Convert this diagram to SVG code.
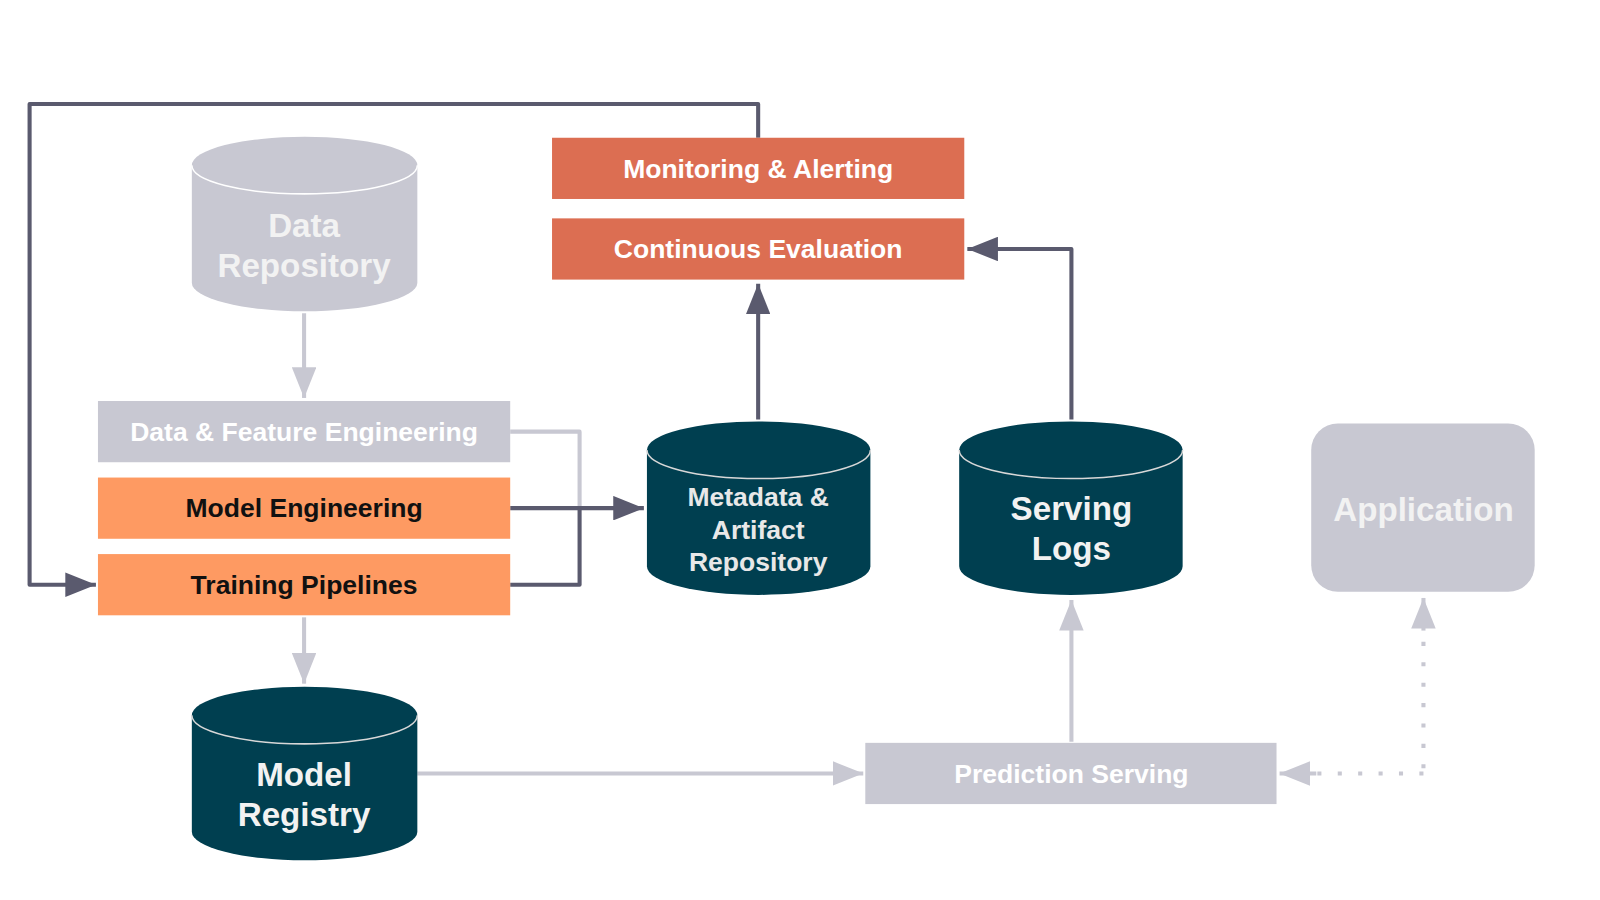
<svg xmlns="http://www.w3.org/2000/svg" width="1600" height="900" viewBox="0 0 1600 900">
<style>
text{font-family:"Liberation Sans",Arial,sans-serif;font-weight:bold;text-anchor:middle}
.lt{fill:#c8c8d2}
.dk{fill:#003f50}
.or{fill:#fe9a62}
.rd{fill:#dc6e52}
.lbl{font-size:26px}
.cyl{font-size:32.5px;fill:#f2f2f2}
.cl{stroke:#ffffff;stroke-width:1.5;fill:none}
.cd{stroke:#d8d8d8;stroke-width:1.5;fill:none}
.ln{fill:none;stroke-width:4;stroke-linejoin:round}
.ldk{stroke:#5a5a6e}
.llt{stroke:#c8c8d2}
</style>
<defs>
<marker id="ad" viewBox="0 0 30 24" refX="30" refY="12" markerWidth="30" markerHeight="24" markerUnits="userSpaceOnUse" orient="auto"><path d="M0,0 L30,12 L0,24 Z" fill="#5a5a6e"/></marker>
<marker id="al" viewBox="0 0 30 24" refX="30" refY="12" markerWidth="30" markerHeight="24" markerUnits="userSpaceOnUse" orient="auto"><path d="M0,0 L30,12 L0,24 Z" fill="#c8c8d2"/></marker>
</defs>
<rect width="1600" height="900" fill="#ffffff"/>
<g transform="scale(1.0204)">
<g id="connectors">
<path class="ln llt" d="M298,307 V390" marker-end="url(#al)"/>
<path class="ln llt" d="M500,423 H568 V498"/>
<path class="ln ldk" d="M500,498 H631" marker-end="url(#ad)"/>
<path class="ln ldk" d="M500,573 H568 V498"/>
<path class="ln ldk" d="M743,411 V278" marker-end="url(#ad)"/>
<path class="ln ldk" d="M743,135 V102 H29 V573 H94" marker-end="url(#ad)"/>
<path class="ln ldk" d="M1050,411 V244 H948" marker-end="url(#ad)"/>
<path class="ln llt" d="M298,605 V670" marker-end="url(#al)"/>
<path class="ln llt" d="M409,758 H846" marker-end="url(#al)"/>
<path class="ln llt" d="M1050,727 V588" marker-end="url(#al)"/>
<path class="ln llt" d="M1395,753 V612" stroke-dasharray="4,16"/>
<path class="ln llt" d="M1395,618 V586" marker-end="url(#al)" stroke="none"/>
<path class="ln llt" d="M1395,758 H1285" stroke-dasharray="4,16"/>
<path class="ln llt" d="M1290,758 H1254" marker-end="url(#al)" stroke="none"/>
</g>
<g id="data-repository">
<path class="lt" d="M188,162 A110.5,28 0 0 1 409,162 V277 A110.5,28 0 0 1 188,277 Z"/>
<path class="cl" d="M188,162 A110.5,28 0 0 0 409,162"/>
<text class="cyl" x="298" y="232">Data</text>
<text class="cyl" x="298" y="271">Repository</text>
</g>
<g id="data-feature-engineering">
<rect class="lt" x="96" y="393" width="404" height="60"/>
<text class="lbl" x="298" y="432" fill="#ffffff">Data &amp; Feature Engineering</text>
</g>
<g id="model-engineering">
<rect class="or" x="96" y="468" width="404" height="60"/>
<text class="lbl" x="298" y="507" fill="#111111">Model Engineering</text>
</g>
<g id="training-pipelines">
<rect class="or" x="96" y="543" width="404" height="60"/>
<text class="lbl" x="298" y="582" fill="#111111">Training Pipelines</text>
</g>
<g id="model-registry">
<path class="dk" d="M188,701 A110.5,28 0 0 1 409,701 V815 A110.5,28 0 0 1 188,815 Z"/>
<path class="cd" d="M188,701 A110.5,28 0 0 0 409,701"/>
<text class="cyl" x="298" y="770">Model</text>
<text class="cyl" x="298" y="809">Registry</text>
</g>
<g id="monitoring-alerting">
<rect class="rd" x="541" y="135" width="404" height="60"/>
<text class="lbl" x="743" y="174" fill="#ffffff">Monitoring &amp; Alerting</text>
</g>
<g id="continuous-evaluation">
<rect class="rd" x="541" y="214" width="404" height="60"/>
<text class="lbl" x="743" y="253" fill="#ffffff">Continuous Evaluation</text>
</g>
<g id="metadata-artifact-repository">
<path class="dk" d="M634,441 A109.5,28 0 0 1 853,441 V555 A109.5,28 0 0 1 634,555 Z"/>
<path class="cd" d="M634,441 A109.5,28 0 0 0 853,441"/>
<text x="743" y="496" font-size="26" fill="#e8e8e8">Metadata &amp;</text>
<text x="743" y="528" font-size="26" fill="#e8e8e8">Artifact</text>
<text x="743" y="560" font-size="26" fill="#e8e8e8">Repository</text>
</g>
<g id="serving-logs">
<path class="dk" d="M940,441 A109.5,28 0 0 1 1159,441 V555 A109.5,28 0 0 1 940,555 Z"/>
<path class="cd" d="M940,441 A109.5,28 0 0 0 1159,441"/>
<text class="cyl" x="1050" y="510">Serving</text>
<text class="cyl" x="1050" y="549">Logs</text>
</g>
<g id="application">
<rect class="lt" x="1285" y="415" width="219" height="165" rx="26"/>
<text class="cyl" x="1395" y="511">Application</text>
</g>
<g id="prediction-serving">
<rect class="lt" x="848" y="728" width="403" height="60"/>
<text class="lbl" x="1050" y="767" fill="#ffffff">Prediction Serving</text>
</g>
</g>
</svg>
